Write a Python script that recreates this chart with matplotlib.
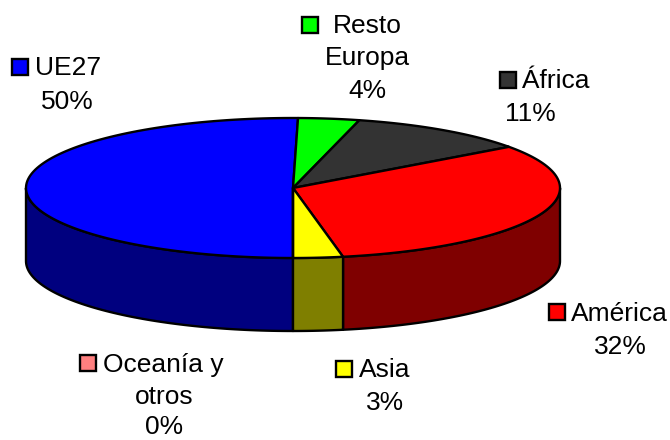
import numpy as np
import matplotlib.pyplot as plt
from matplotlib.patches import Polygon, Rectangle

plt.rcParams['font.family'] = ['Liberation Sans', 'DejaVu Sans']

categories = ['UE27', 'Resto Europa', 'África', 'América', 'Asia', 'Oceanía y otros']
values = [50.3, 3.7, 11, 32, 3, 0]
top_colors = ['#0000FF', '#00FF00', '#333333', '#FF0000', '#FFFF00', '#FF8080']
side_colors = ['#00007F', '#007F00', '#191919', '#7F0000', '#7F7F00', '#7F4040']

# pie geometry in pixels
CX, CY = 293, 188
RX, RY = 267, 70
DEPTH = 73

# label placement: key box (left, top), then lines as (text, x, baseline, ha)
labels = [
    ((12, 59), [('UE27', 35, 75, 'left'), ('50%', 67, 109, 'center')]),
    ((302, 17), [('Resto', 333, 33, 'left'), ('Europa', 367, 65, 'center'), ('4%', 367, 98, 'center')]),
    ((500, 72), [('África', 522, 88, 'left'), ('11%', 530, 121, 'center')]),
    ((549, 304), [('América', 571, 321, 'left'), ('32%', 620, 354, 'center')]),
    ((336, 361), [('Asia', 359, 377, 'left'), ('3%', 385, 410, 'center')]),
    ((80, 355), [('Oceanía y', 103, 372, 'left'), ('otros', 164, 404, 'center'), ('0%', 164, 434, 'center')]),
]


def rim(t):
    # t in degrees, clockwise from the bottom of the ellipse is handled by the caller
    r = np.radians(t)
    return CX + RX * np.sin(r), CY - RY * np.cos(r)


fig = plt.figure(figsize=(6.7, 4.4), dpi=100)
ax = fig.add_axes([0, 0, 1, 1])
ax.set_xlim(0, 670)
ax.set_ylim(440, 0)
ax.axis('off')

# slices run clockwise, the first one starts at 6 o'clock
edges = 180 + np.cumsum([0] + values) * 3.6

# side wall first, only the front half (t between 90 and 270) shows
for i in range(len(values)):
    for a, b in [(edges[i], edges[i + 1]), (edges[i] - 360, edges[i + 1] - 360)]:
        lo, hi = max(a, 90), min(b, 270)
        if hi <= lo:
            continue
        x, y = rim(np.linspace(lo, hi, 80))
        pts = np.r_[np.c_[x, y], np.c_[x[::-1], y[::-1] + DEPTH]]
        ax.add_patch(Polygon(pts, closed=True, fc=side_colors[i], ec='black', lw=1.7,
                             joinstyle='round', zorder=2))

# top face
for i in range(len(values)):
    x, y = rim(np.linspace(edges[i], edges[i + 1], 120))
    pts = np.r_[[[CX, CY]], np.c_[x, y]]
    ax.add_patch(Polygon(pts, closed=True, fc=top_colors[i], ec='black', lw=1.7,
                         joinstyle='round', zorder=3))

# labels with their little colour keys
for i, (key, lines) in enumerate(labels):
    ax.add_patch(Rectangle(key, 16, 16, fc=top_colors[i], ec='black', lw=1.7, zorder=4))
    for text, x, y, ha in lines:
        ax.text(x, y, text, fontsize=19, ha=ha, va='baseline', color='black', zorder=5)

fig.savefig('out.png', dpi=100)
